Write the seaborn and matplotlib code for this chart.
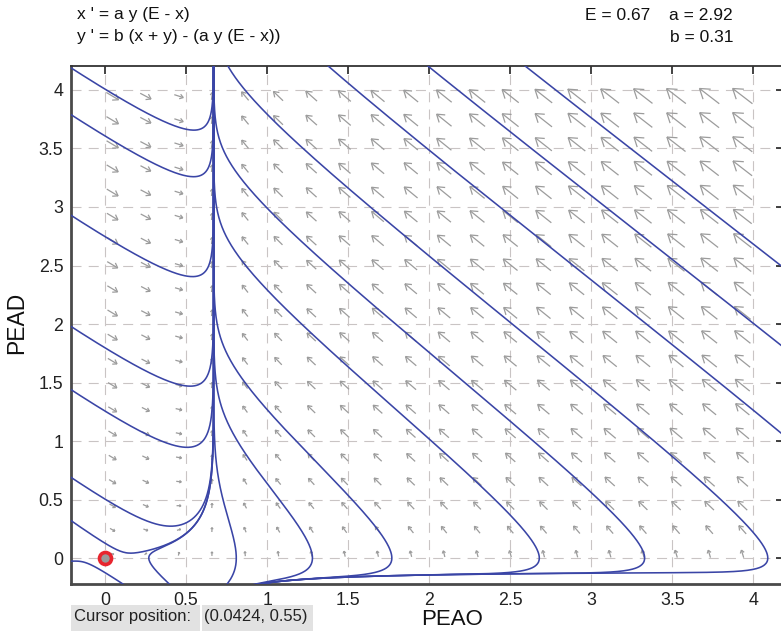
import numpy as np
import pandas as pd
import matplotlib
matplotlib.use("Agg")
import matplotlib.pyplot as plt
import seaborn as sns
from matplotlib.collections import LineCollection
from matplotlib.patches import Rectangle

# ---- system parameters (shown in the header) ----
E_val = 0.67
a_val = 2.92
b_val = 0.31

# ---- axes window and ticks ----
x_window = [-0.21, 4.19]
y_window = [-0.222, 4.205]
x_ticks = [0, 0.5, 1, 1.5, 2, 2.5, 3, 3.5, 4]
y_ticks = [0, 0.5, 1, 1.5, 2, 2.5, 3, 3.5, 4]
x_tick_labels = ["0", "0.5", "1", "1.5", "2", "2.5", "3", "3.5", "4"]
y_tick_labels = ["0", "0.5", "1", "1.5", "2", "2.5", "3", "3.5", "4"]
x_label = "PEAO"
y_label = "PEAD"

# ---- initial points of the drawn solution curves ----
seed_x = [-0.2, -0.2, -0.2, -0.2, -0.2, -0.2, -0.2, 0.0,
          0.27, 0.81, 1.28, 1.77, 2.68, 3.33, 4.09,
          4.17, 4.17, 4.17]
seed_y = [4.18, 3.78, 2.92, 1.97, 1.43, 0.68, 0.31, -0.125,
          0.0, 0.0, 0.0, 0.0, 0.0, 0.0, 0.0,
          2.50, 1.82, 1.07]

# ---- direction field grid size ----
arrow_cols = 20
arrow_rows = 20

eq_lines = ["x ' = a y (E - x)", "y ' = b (x + y) - (a y (E - x))"]
param_line1 = ["E = 0.67", "a = 2.92"]
param_line2 = "b = 0.31"
cursor_label = "Cursor position:"
cursor_value = "(0.0424, 0.55)"
marker_x = [0.0]
marker_y = [0.0]

# ---------------------------------------------------------------
W, H = 781, 631
sns.set_style("white")
plt.rcParams["font.family"] = ["Liberation Sans", "DejaVu Sans"]

fig = plt.figure(figsize=(W / 100, H / 100), dpi=100)
ax_l, ax_r, ax_t, ax_b = 71, 784, 66, 584
ax = fig.add_axes([ax_l / W, (H - ax_b) / H, (ax_r - ax_l) / W, (ax_b - ax_t) / H])
ax.set_xlim(*x_window)
ax.set_ylim(*y_window)

sx = (ax_r - ax_l) / (x_window[1] - x_window[0])   # px per unit
sy = (ax_b - ax_t) / (y_window[1] - y_window[0])


def field(x, y):
    fx = a_val * y * (E_val - x)
    fy = b_val * (x + y) - a_val * y * (E_val - x)
    return fx, fy


def unit_step(p, sign):
    fx, fy = field(p[0], p[1])
    n = np.hypot(fx * sx, fy * sy) + 1e-12
    return sign * np.array([fx / n, fy / n])


def trace(x0, y0, sign, h=1.0, max_steps=6000):
    p = np.array([x0, y0], dtype=float)
    pts = [p.copy()]
    mx = 0.05
    for _ in range(max_steps):
        k1 = unit_step(p, sign)
        k2 = unit_step(p + h / 2 * k1, sign)
        k3 = unit_step(p + h / 2 * k2, sign)
        k4 = unit_step(p + h * k3, sign)
        p = p + h / 6 * (k1 + 2 * k2 + 2 * k3 + k4)
        pts.append(p.copy())
        if (p[0] < x_window[0] - mx or p[0] > x_window[1] + mx or
                p[1] < y_window[0] - mx or p[1] > y_window[1] + mx):
            break
    return np.array(pts)


rows = []
for i, (x0, y0) in enumerate(zip(seed_x, seed_y)):
    back = trace(x0, y0, -1.0)[::-1]
    fwd = trace(x0, y0, 1.0)[1:]
    path = np.vstack([back, fwd])
    for k, (px, py) in enumerate(path):
        rows.append((i, k, px, py))
traj = pd.DataFrame(rows, columns=["traj", "step", "x", "y"])

# ---- grid ----
for xt in x_ticks:
    ax.axvline(xt, color="#c9c4c4", lw=0.8, dashes=(9, 6.5), zorder=0)
for yt in y_ticks:
    ax.axhline(yt, color="#c9c4c4", lw=0.8, dashes=(9, 6.5), zorder=0)

# ---- direction field ----
span_x = x_window[1] - x_window[0]
span_y = y_window[1] - y_window[0]
cx = (x_window[0] + x_window[1]) / 2
cy = (y_window[0] + y_window[1]) / 2
dxg = span_x / 21.5
dyg = span_y / 21.5
gx = cx + (np.arange(arrow_cols) - (arrow_cols - 1) / 2) * dxg
gy = cy + (np.arange(arrow_rows) - (arrow_rows - 1) / 2) * dyg
segs = []
for xc in gx:
    for yc in gy:
        fx, fy = field(xc, yc)
        mag = np.hypot(fx, fy)
        L = min(6.8 * mag ** 0.33, 25.0)
        if L < 1.0:
            continue
        ux, uy = fx * sx, fy * sy
        n = np.hypot(ux, uy)
        ux, uy = ux / n, uy / n
        tail = np.array([xc - ux * L / 2 / sx, yc - uy * L / 2 / sy])
        tip = np.array([xc + ux * L / 2 / sx, yc + uy * L / 2 / sy])
        segs.append([tail, tip])
        hl = 0.45 * L
        for ang in (np.deg2rad(34), -np.deg2rad(34)):
            ca, sa = np.cos(ang), np.sin(ang)
            bx = -(ux * ca - uy * sa)
            by = -(ux * sa + uy * ca)
            segs.append([tip, np.array([tip[0] + bx * hl / sx, tip[1] + by * hl / sy])])
ax.add_collection(LineCollection(segs, colors="#9c9c9c", linewidths=0.9, zorder=1))

# ---- solution curves ----
sns.lineplot(data=traj, x="x", y="y", units="traj", estimator=None, sort=False,
             color="#3a45a6", lw=1.15, ax=ax, legend=False, zorder=3)

# ---- marker ----
ax.scatter(marker_x, marker_y, s=75, facecolor="#9a9a9a", edgecolor="#e8252e",
           linewidths=2.6, zorder=5, clip_on=False)

ax.set_xlim(*x_window)
ax.set_ylim(*y_window)
ax.set_xticks(x_ticks)
ax.set_xticklabels(x_tick_labels)
ax.set_yticks(y_ticks)
ax.set_yticklabels(y_tick_labels)
ax.tick_params(direction="in", length=6, width=1.2, colors="#222222",
               labelsize=12.8, top=True, right=True, pad=5.5)
ax.set_xlabel("")
ax.set_ylabel("")
for side in ["left", "bottom"]:
    ax.spines[side].set_linewidth(2.0)
    ax.spines[side].set_color("#4a4a4a")
for side in ["top", "right"]:
    ax.spines[side].set_linewidth(1.3)
    ax.spines[side].set_color("#333333")

fig.text(452 / W, 1 - 630 / H, x_label, ha="center", va="bottom", fontsize=16, color="#111111")
fig.text(17 / W, 1 - 323 / H, y_label, ha="center", va="center", rotation=90,
         fontsize=16.5, color="#111111")

# ---- header ----
hs = 12.5
fig.text(77 / W, 1 - 15 / H, eq_lines[0], ha="left", va="center", fontsize=hs, color="#111111")
fig.text(77 / W, 1 - 37 / H, eq_lines[1], ha="left", va="center", fontsize=hs, color="#111111")
fig.text(650 / W, 1 - 15 / H, param_line1[0], ha="right", va="center", fontsize=hs, color="#111111")
fig.text(733 / W, 1 - 15 / H, param_line1[1], ha="right", va="center", fontsize=hs, color="#111111")
fig.text(733 / W, 1 - 37 / H, param_line2, ha="right", va="center", fontsize=hs, color="#111111")

# ---- cursor position boxes ----
fig.patches.append(Rectangle((71 / W, 0), (200 - 71) / W, (631 - 605) / H,
                             transform=fig.transFigure, facecolor="#e2e2e2", edgecolor="none"))
fig.patches.append(Rectangle((202 / W, 0), (313 - 202) / W, (631 - 605) / H,
                             transform=fig.transFigure, facecolor="#e2e2e2", edgecolor="none"))
fig.text(74 / W, 1 - 617 / H, cursor_label, ha="left", va="center", fontsize=12, color="#222222")
fig.text(204 / W, 1 - 617 / H, cursor_value, ha="left", va="center", fontsize=12, color="#222222")

fig.savefig("out.png", dpi=100)
